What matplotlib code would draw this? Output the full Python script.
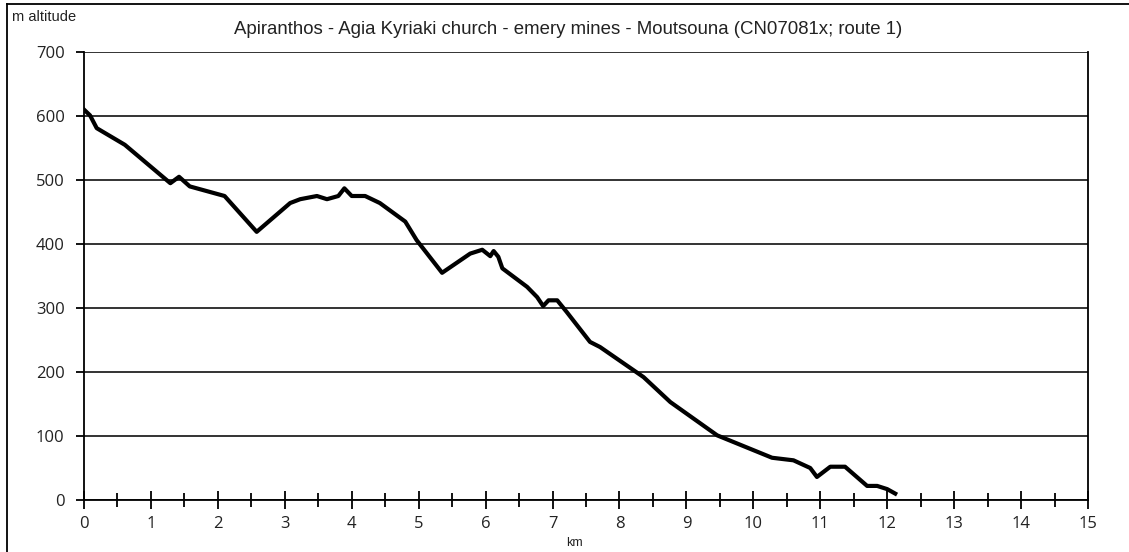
import matplotlib
matplotlib.use("Agg")
import matplotlib.pyplot as plt
from matplotlib.ticker import MultipleLocator
from matplotlib.lines import Line2D

# distance (km) and altitude (m)
km = [0.0, 0.09, 0.19, 0.61, 1.29, 1.42, 1.58, 2.10, 2.58, 3.08, 3.23, 3.48,
      3.63, 3.80, 3.89, 4.00, 4.20, 4.42, 4.80, 4.97, 5.35, 5.77, 5.95, 6.07,
      6.12, 6.19, 6.25, 6.62, 6.77, 6.86, 6.94, 7.07, 7.21, 7.56, 7.71, 8.36,
      8.76, 9.46, 10.28, 10.60, 10.85, 10.95, 11.15, 11.37, 11.70, 11.85,
      12.00, 12.12]
alt = [610, 601, 581, 555, 495, 505, 490, 475, 419, 464, 470, 475,
       470, 475, 487, 475, 475, 464, 435, 406, 355, 385, 391, 381,
       389, 380, 362, 333, 317, 303, 312, 312, 294, 247, 239, 192,
       153, 101, 66, 62, 50, 36, 52, 52, 22, 22,
       17, 10]

title = "Apiranthos - Agia Kyriaki church - emery mines - Moutsouna (CN07081x; route 1)"

W, H = 1129, 552
fig = plt.figure(figsize=(W / 100, H / 100), dpi=100)
ax = fig.add_axes([84 / W, 1 - 500 / H, (1088 - 84) / W, (500 - 52) / H])

ax.plot(km, alt, color="black", lw=3.0, solid_joinstyle="round", zorder=3)

ax.set_xlim(0, 15)
ax.set_ylim(0, 700)
ax.xaxis.set_major_locator(MultipleLocator(1))
ax.xaxis.set_minor_locator(MultipleLocator(0.5))
ax.yaxis.set_major_locator(MultipleLocator(100))

ax.grid(axis="y", color="#333333", lw=1.4)
ax.set_axisbelow(True)
for s in ax.spines.values():
    s.set_linewidth(1.3)
ax.spines["top"].set_visible(False)

ax.tick_params(axis="x", which="major", direction="inout", length=13, width=1.3,
               pad=5, labelsize=12)
ax.tick_params(axis="x", which="minor", direction="inout", length=10, width=1.3)
ax.tick_params(axis="y", direction="out", length=6, width=1.3, pad=8, labelsize=12)
for lab in ax.get_xticklabels() + ax.get_yticklabels():
    lab.set_fontfamily("Open Sans")
    lab.set_color("#222222")

fig.text(568 / W, 1 - 30 / H, title, ha="center", va="center",
         fontsize=13.4, family="Liberation Sans", color="#222222")
fig.text(12 / W, 1 - 17 / H, "m altitude", ha="left", va="center",
         fontsize=10.5, family="Liberation Sans", color="#222222")
fig.text(574 / W, 1 - 543 / H, "km", ha="center", va="center",
         fontsize=9, family="Liberation Sans", color="#222222")

# frame lines at left and top of the image
fig.add_artist(Line2D([7 / W, 7 / W], [0, 1 - 4 / H], transform=fig.transFigure,
                      color="black", lw=1.3))
fig.add_artist(Line2D([7 / W, 1], [1 - 4 / H, 1 - 4 / H], transform=fig.transFigure,
                      color="black", lw=1.3))

fig.savefig("out.png", dpi=100)
